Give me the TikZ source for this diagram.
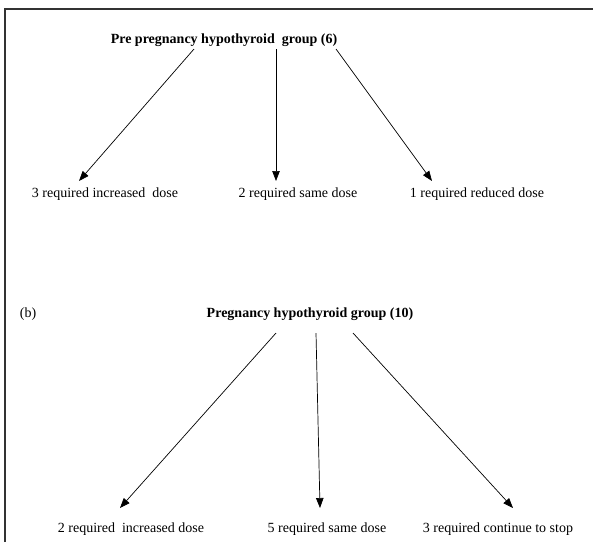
\documentclass[tikz,border=0pt]{standalone}
\usepackage{fontspec}
\setmainfont{Liberation Serif}
\usetikzlibrary{arrows.meta}
\begin{document}
\begin{tikzpicture}[x=1pt,y=-1pt,
  lbl/.style={inner sep=0pt,font=\fontsize{14}{16}\selectfont},
  ttl/.style={inner sep=0pt,font=\fontsize{14}{16}\selectfont\bfseries},
  arr/.style={line width=0.7pt,-{Triangle[length=10pt,width=7.5pt]}},
  frame/.style={line width=1.2pt,black!80}]
\useasboundingbox (0,0) rectangle (593,542);
\draw[frame] (5,542) -- (5,9) -- (593,9);
% part (a)
\node[ttl] (g1) at (224,40) {Pre pregnancy hypothyroid\ \ group (6)};
\node[lbl] (a1) at (105,194) {3 required increased\ \ dose};
\node[lbl] (a2) at (298,194) {2 required same dose};
\node[lbl] (a3) at (477,194) {1 required reduced dose};
\coordinate (g1l) at (194,49);
\coordinate (g1m) at (276,49);
\coordinate (g1r) at (336,49);
\coordinate (a1h) at (79,181);
\coordinate (a2h) at (276,181);
\coordinate (a3h) at (432,181);
\draw[arr] (g1l) -- (a1h);
\draw[arr] (g1m) -- (a2h);
\draw[arr] (g1r) -- (a3h);
% part (b)
\node[lbl] (b) at (28,314) {(b)};
\node[ttl] (g2) at (310,314) {Pregnancy hypothyroid group (10)};
\node[lbl] (b1) at (131,529) {2 required\ \ increased dose};
\node[lbl] (b2) at (327,529) {5 required same dose};
\node[lbl] (b3) at (498,529) {3 required continue to stop};
\coordinate (g2l) at (276,333);
\coordinate (g2m) at (316,333);
\coordinate (g2r) at (353,333);
\coordinate (b1h) at (120,508);
\coordinate (b2h) at (320,508);
\coordinate (b3h) at (513,508);
\draw[arr] (g2l) -- (b1h);
\draw[arr] (g2m) -- (b2h);
\draw[arr] (g2r) -- (b3h);
\end{tikzpicture}
\end{document}
